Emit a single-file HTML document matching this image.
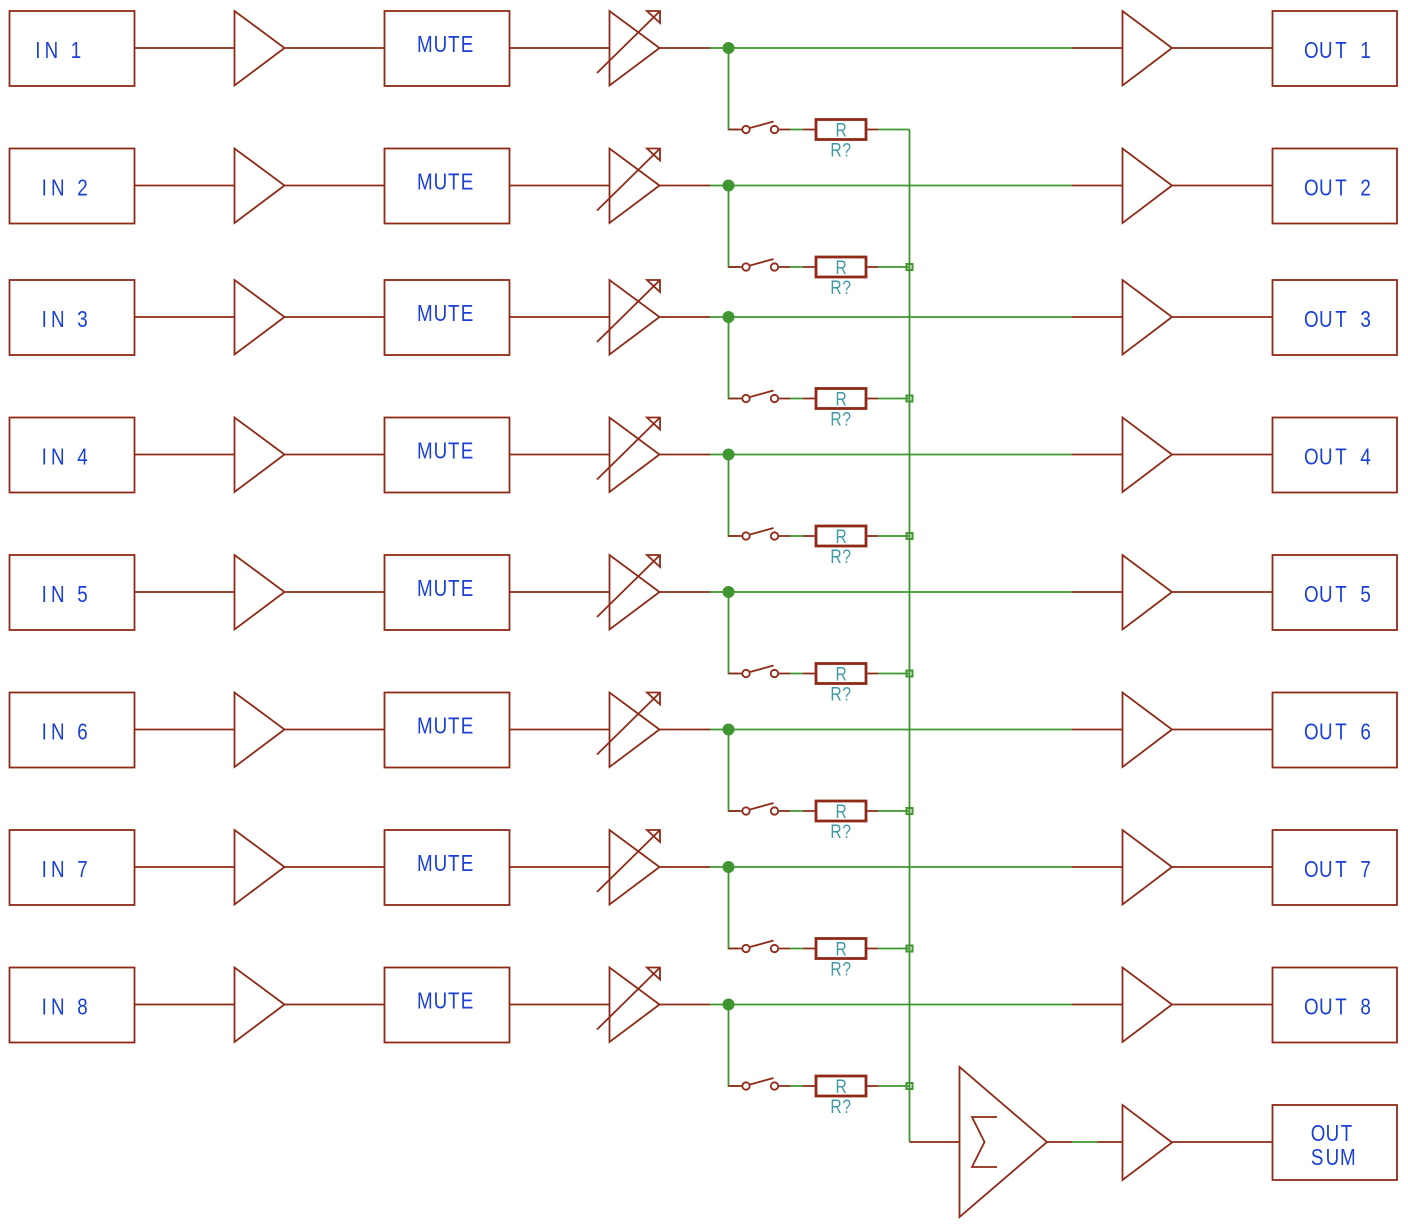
<!DOCTYPE html>
<html><head><meta charset="utf-8"><style>
html,body{margin:0;padding:0;background:#fff}
svg{display:block}
.s{fill:none;stroke:#8f2a18;stroke-width:1.8;stroke-linejoin:miter}
.g{fill:none;stroke:#3f9630;stroke-width:1.8}
.t{font-family:"Liberation Sans",sans-serif;font-size:23.5px;fill:#1a3fd6}
.r{font-family:"Liberation Sans",sans-serif;font-size:19.5px;fill:#3f9aa5}
</style></head><body>
<svg xmlns="http://www.w3.org/2000/svg" width="1408" height="1226" viewBox="0 0 1408 1226">
<defs>
<g id="row">
<g class="s">
<rect x="9.5" y="-37" width="125" height="75"/>
<path d="M134.5 0H234.5M234.5-37V37.5L284.5 0ZM284.5 0H384.5"/>
<rect x="384.5" y="-37" width="125" height="75"/>
<path d="M509.5 0H609.5M609.5-37V37.5L659.5 0ZM659.5 0H710"/>
<path d="M597 25L660-37M647-37H660V-25Z"/>
<path d="M1072 0H1122.5M1122.5-37V37.5L1172 0ZM1172 0H1272.5"/>
<rect x="1272.5" y="-37" width="124.5" height="75"/>
</g>
<path class="g" d="M710 0H1072M728.5 0V81.5H738"/>
<circle cx="728.5" cy="0" r="6" fill="#3f9630"/>
<g class="s">
<path d="M728.5 81.5H742.5M778 81.5H790M803 81.5H816M866 81.5H878M750 80L773.5 73.5"/>
<circle cx="746" cy="81.5" r="3.7" fill="#fff"/>
<circle cx="774.5" cy="81.5" r="3.7" fill="#fff"/>
<rect x="816" y="71.5" width="50" height="20" fill="none" stroke-width="2.8"/>
</g>
<path class="g" d="M790 81.5H803M878 81.5H909.5"/>
</g>
<g id="sq"><rect x="906.5" y="-3" width="6" height="6" fill="none" stroke="#3f9630" stroke-width="2"/></g>
</defs>

<use href="#row" x="0" y="48"/>
<use href="#row" x="0" y="185.5"/>
<use href="#row" x="0" y="317"/>
<use href="#row" x="0" y="454.5"/>
<use href="#row" x="0" y="592"/>
<use href="#row" x="0" y="729.5"/>
<use href="#row" x="0" y="867"/>
<use href="#row" x="0" y="1004.5"/>

<path class="g" d="M909.5 129.5V1142"/>
<use href="#sq" x="0" y="267"/>
<use href="#sq" x="0" y="398.5"/>
<use href="#sq" x="0" y="536"/>
<use href="#sq" x="0" y="673.5"/>
<use href="#sq" x="0" y="811"/>
<use href="#sq" x="0" y="948.5"/>
<use href="#sq" x="0" y="1086"/>

<g class="s">
<path d="M909.5 1142H959.5M959.5 1067V1217L1047 1142ZM997 1117H972L984.5 1142L972 1167H997"/>
<path d="M1047 1142H1072M1097.5 1142H1122.5M1122.5 1105V1180L1172 1142.5ZM1172 1142H1272.5"/>
<rect x="1272.5" y="1105" width="124.5" height="75"/>
</g>
<path class="g" d="M1072 1142H1097.5"/>

<g class="t" transform="scale(.8 1)">
<text x="44.1 55.75 75 88.5" y="58">IN 1</text>
<text x="52 63.75 84 96.5" y="195.5">IN 2</text>
<text x="52 63.75 84 96.5" y="327">IN 3</text>
<text x="52 63.75 84 96.5" y="464.5">IN 4</text>
<text x="52 63.75 84 96.5" y="602">IN 5</text>
<text x="52 63.75 84 96.5" y="739.5">IN 6</text>
<text x="52 63.75 84 96.5" y="877">IN 7</text>
<text x="52 63.75 84 96.5" y="1014.5">IN 8</text>

<text x="521.25 542 560 576" y="52">MUTE</text>
<text x="521.25 542 560 576" y="189.5">MUTE</text>
<text x="521.25 542 560 576" y="321">MUTE</text>
<text x="521.25 542 560 576" y="458.5">MUTE</text>
<text x="521.25 542 560 576" y="596">MUTE</text>
<text x="521.25 542 560 576" y="733.5">MUTE</text>
<text x="521.25 542 560 576" y="871">MUTE</text>
<text x="521.25 542 560 576" y="1008.5">MUTE</text>

<text x="1630 1648.75 1669 1685 1700.5" y="58">OUT 1</text>
<text x="1630 1648.75 1669 1685 1700.5" y="195.5">OUT 2</text>
<text x="1630 1648.75 1669 1685 1700.5" y="327">OUT 3</text>
<text x="1630 1648.75 1669 1685 1700.5" y="464.5">OUT 4</text>
<text x="1630 1648.75 1669 1685 1700.5" y="602">OUT 5</text>
<text x="1630 1648.75 1669 1685 1700.5" y="739.5">OUT 6</text>
<text x="1630 1648.75 1669 1685 1700.5" y="877">OUT 7</text>
<text x="1630 1648.75 1669 1685 1700.5" y="1014.5">OUT 8</text>

<text x="1638.4 1657.1 1676" y="1141">OUT</text>
<text x="1638.6 1657.1 1675" y="1165">SUM</text>
</g>

<g class="r" transform="scale(.8 1)">
<text x="1044.4" y="136.7">R</text><text x="1038 1053" y="156.7">R?</text>
<text x="1044.4" y="274.2">R</text><text x="1038 1053" y="294.2">R?</text>
<text x="1044.4" y="405.7">R</text><text x="1038 1053" y="425.7">R?</text>
<text x="1044.4" y="543.2">R</text><text x="1038 1053" y="563.2">R?</text>
<text x="1044.4" y="680.7">R</text><text x="1038 1053" y="700.7">R?</text>
<text x="1044.4" y="818.2">R</text><text x="1038 1053" y="838.2">R?</text>
<text x="1044.4" y="955.7">R</text><text x="1038 1053" y="975.7">R?</text>
<text x="1044.4" y="1093.2">R</text><text x="1038 1053" y="1113.2">R?</text>
</g>
</svg>
</body></html>
